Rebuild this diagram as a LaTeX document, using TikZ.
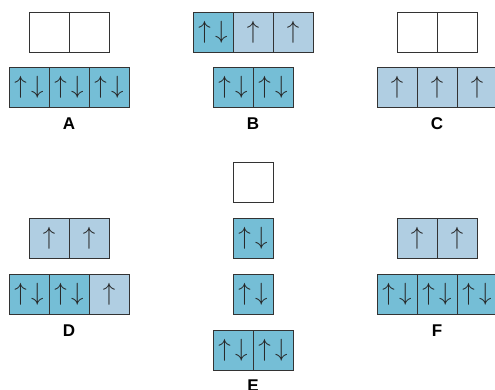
\documentclass[tikz,border=0pt]{standalone}
\usepackage{fontspec}
\setsansfont{Liberation Sans}
\usetikzlibrary{positioning}
\definecolor{pairblue}{RGB}{117,190,214}
\definecolor{oneblue}{RGB}{176,206,226}
\newcommand{\spinpair}{$\uparrow\mkern3mu\downarrow$}
\newcommand{\spinone}{$\uparrow$}

\begin{document}
\begin{tikzpicture}[x=1pt, y=-1pt,
    orb/.style={draw=black!80, line width=0.8pt, fill=#1, minimum size=40pt,
        inner sep=0pt, outer sep=0pt, anchor=north west, text=black!85,
        font=\fontsize{24}{24}\selectfont},
    orb/.default=white,
    tag/.style={anchor=base, font=\sffamily\bfseries\fontsize{17}{17}\selectfont},
    node distance=0pt
]
\useasboundingbox (0,0) rectangle (495,390);

% A
\node[orb] (a1) at (29,12) {};
\node[orb, right=of a1] (a2) {};
\node[orb=pairblue] (a3) at (9,67) {\spinpair};
\node[orb=pairblue, right=of a3] (a4) {\spinpair};
\node[orb=pairblue, right=of a4] (a5) {\spinpair};
\node[tag] (la) at (69,130) {A};

% B
\node[orb=pairblue] (b1) at (193,12) {\spinpair};
\node[orb=oneblue, right=of b1] (b2) {\spinone};
\node[orb=oneblue, right=of b2] (b3) {\spinone};
\node[orb=pairblue] (b4) at (213,67) {\spinpair};
\node[orb=pairblue, right=of b4] (b5) {\spinpair};
\node[tag] (lb) at (253,130) {B};

% C
\node[orb] (c1) at (397,12) {};
\node[orb, right=of c1] (c2) {};
\node[orb=oneblue] (c3) at (377,67) {\spinone};
\node[orb=oneblue, right=of c3] (c4) {\spinone};
\node[orb=oneblue, right=of c4] (c5) {\spinone};
\node[tag] (lc) at (437,130) {C};

% D
\node[orb=oneblue] (d1) at (29,218) {\spinone};
\node[orb=oneblue, right=of d1] (d2) {\spinone};
\node[orb=pairblue] (d3) at (9,274) {\spinpair};
\node[orb=pairblue, right=of d3] (d4) {\spinpair};
\node[orb=oneblue, right=of d4] (d5) {\spinone};
\node[tag] (ld) at (69,336) {D};

% E
\node[orb] (e1) at (233,162) {};
\node[orb=pairblue] (e2) at (233,218) {\spinpair};
\node[orb=pairblue] (e3) at (233,274) {\spinpair};
\node[orb=pairblue] (e4) at (213,330) {\spinpair};
\node[orb=pairblue, right=of e4] (e5) {\spinpair};
\node[tag] (le) at (253,391) {E};

% F
\node[orb=oneblue] (f1) at (397,218) {\spinone};
\node[orb=oneblue, right=of f1] (f2) {\spinone};
\node[orb=pairblue] (f3) at (377,274) {\spinpair};
\node[orb=pairblue, right=of f3] (f4) {\spinpair};
\node[orb=pairblue, right=of f4] (f5) {\spinpair};
\node[tag] (lf) at (437,336) {F};
\end{tikzpicture}
\end{document}
